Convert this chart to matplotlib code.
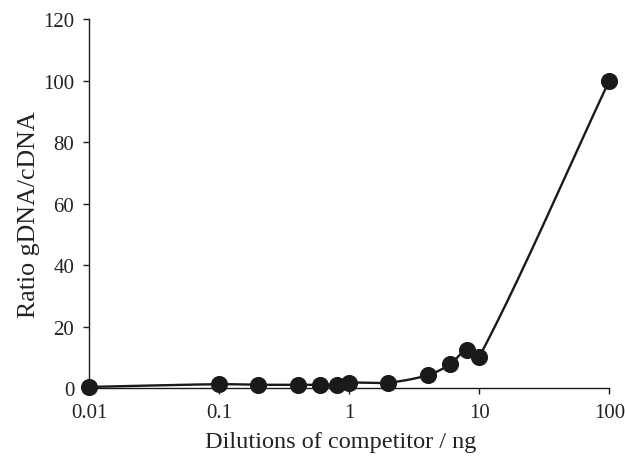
import numpy as np
import matplotlib
matplotlib.use("Agg")
import matplotlib.pyplot as plt

dilutions = [0.01, 0.1, 0.2, 0.4, 0.6, 0.8, 1, 2, 4, 6, 8, 10, 100]
ratio = [0.5, 1.4, 1.2, 1.2, 1.2, 1.2, 1.9, 1.9, 4.3, 7.9, 12.5, 10.3, 100]
x_ticks = [0.01, 0.1, 1, 10, 100]
x_tick_labels = ["0.01", "0.1", "1", "10", "100"]
y_ticks = [0, 20, 40, 60, 80, 100, 120]

plt.rcParams['font.family'] = ['Liberation Serif', 'DejaVu Serif']

fig = plt.figure(figsize=(6.25, 4.64), dpi=100)
ax = fig.add_axes([0.1429, 0.1606, 0.832, 0.7963])
ax.set_xscale('log')
ax.set_xlim(0.01, 100)
ax.set_ylim(0, 120)


def smooth(xs, ys, n=40, f=0.3):
    # smoothed curve through the points, built in display space
    P = ax.transData.transform(np.column_stack([xs, ys]))
    m = len(P)
    out = []
    for i in range(m - 1):
        p0 = P[i - 1] if i > 0 else P[i]
        p1 = P[i]
        p2 = P[i + 1]
        p3 = P[i + 2] if i + 2 < m else P[i + 1]
        L = np.linalg.norm(p2 - p1)
        d1 = p2 - p0
        d2 = p3 - p1
        c1 = p1 + d1 / np.linalg.norm(d1) * L * f
        c2 = p2 - d2 / np.linalg.norm(d2) * L * f
        t = np.linspace(0, 1, n)[:, None]
        seg = ((1 - t) ** 3) * p1 + 3 * ((1 - t) ** 2) * t * c1 + 3 * (1 - t) * t ** 2 * c2 + t ** 3 * p2
        out.append(seg if i == 0 else seg[1:])
    out = np.vstack(out)
    d = ax.transData.inverted().transform(out)
    return d[:, 0], d[:, 1]


sx, sy = smooth(dilutions, ratio)
color = '#1a1a1a'
ax.plot(sx, sy, color=color, lw=1.7, clip_on=False, zorder=2)
ax.plot(dilutions, ratio, 'o', color=color, ms=11.3, clip_on=False, zorder=3)

ax.set_xticks(x_ticks)
ax.set_xticklabels(x_tick_labels)
ax.xaxis.set_minor_locator(matplotlib.ticker.NullLocator())
ax.set_yticks(y_ticks)

for s in ['top', 'right']:
    ax.spines[s].set_visible(False)
for s in ['left', 'bottom']:
    ax.spines[s].set_color(color)
    ax.spines[s].set_linewidth(1.0)
ax.tick_params(axis='both', direction='out', length=4.3, width=1.0, color=color,
               labelsize=15, labelcolor='#222222')
ax.tick_params(axis='x', pad=6.5)
ax.tick_params(axis='y', pad=6.5)

ax.set_xlabel('Dilutions of competitor / ng', fontsize=17.5, color='#222222')
ax.set_ylabel('Ratio gDNA/cDNA', fontsize=18.7, color='#222222')
ax.xaxis.set_label_coords(0.484, -0.115)
ax.yaxis.set_label_coords(-0.0948, 0.472)

fig.savefig('out.png', dpi=100)
